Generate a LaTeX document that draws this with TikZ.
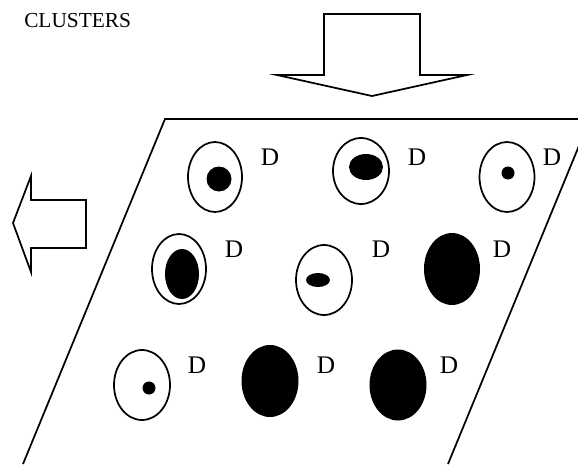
\documentclass[tikz,border=0pt]{standalone}
\usepackage{fontspec}
\setmainfont{Liberation Serif}
\begin{document}
\begin{tikzpicture}[x=0.75pt,y=-0.75pt,
  outline/.style={draw=black,line width=1.3pt,line join=miter},
  ring/.style={draw=black,line width=1.3pt,fill=white},
  core/.style={fill=black},
  lab/.style={inner sep=0pt,font=\fontsize{19}{19}\selectfont},
  title/.style={inner sep=0pt,anchor=base west,font=\fontsize{16}{16}\selectfont}]
\useasboundingbox (0,0) rectangle (578,464);
\clip (0,0) rectangle (578,464);

% heading
\node[title] (head) at (24,27) {CLUSTERS};

% incoming block arrow (pointing down)
\draw[outline] (324,14) -- (420,14) -- (420,75) -- (467,75) -- (372,96)
  -- (277,75) -- (324,75) -- cycle;

% outgoing block arrow (pointing left)
\draw[outline] (86,200) -- (31,200) -- (31,176) -- (13,223) -- (31,272)
  -- (31,248) -- (86,248) -- cycle;

% tilted plane, open at the lower edge
\draw[outline] (23,464) -- (165,119) -- (590,119) -- (448,464);

% row 1
\draw[ring] (215,177) ellipse [x radius=27, y radius=35];
\fill[core] (219,179) circle [radius=12.5];
\draw[ring] (361,171) ellipse [x radius=28, y radius=33];
\fill[core] (366,167) ellipse [x radius=17, y radius=13];
\draw[ring] (507,177) ellipse [x radius=27.5, y radius=35];
\fill[core] (508,173) circle [radius=6.5];

% row 2
\draw[ring] (179,269) ellipse [x radius=27, y radius=35];
\fill[core] (182,274) ellipse [x radius=17, y radius=25];
\draw[ring] (324,280) ellipse [x radius=28, y radius=35];
\fill[core] (318,280) ellipse [x radius=12, y radius=7];
\fill[core] (452,269) ellipse [x radius=28, y radius=36];

% row 3
\draw[ring] (142,385) ellipse [x radius=28, y radius=35];
\fill[core] (149,388) circle [radius=6.5];
\fill[core] (270,381) ellipse [x radius=28.5, y radius=36];
\fill[core] (398,385) ellipse [x radius=28.5, y radius=35.5];

% labels
\node[lab] (d11) at (270,157) {D};
\node[lab] (d12) at (417,157) {D};
\node[lab] (d13) at (552,157) {D};
\node[lab] (d21) at (234,249) {D};
\node[lab] (d22) at (381,249) {D};
\node[lab] (d23) at (502,249) {D};
\node[lab] (d31) at (197,365) {D};
\node[lab] (d32) at (326,365) {D};
\node[lab] (d33) at (449,365) {D};
\end{tikzpicture}
\end{document}
